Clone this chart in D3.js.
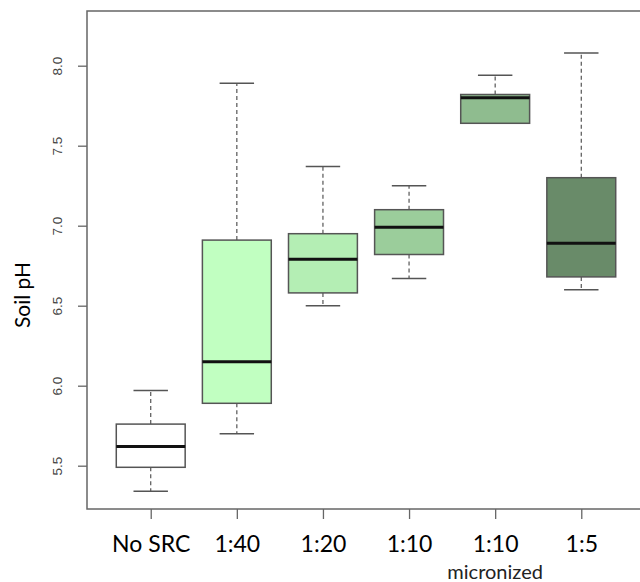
<!DOCTYPE html>
<html><head><meta charset="utf-8">
<script src="https://cdn.jsdelivr.net/npm/d3@7"></script>
<style>body{margin:0;background:#fff}svg{display:block}</style>
</head><body><div id="chart"></div>
<script>
const categories = ["No SRC", "1:40", "1:20", "1:10", "1:10", "1:5"];
const sublabels = ["", "", "", "", "micronized", ""];
const mins    = [5.34, 5.70, 6.50, 6.67, 7.64, 6.60];
const q1s     = [5.49, 5.89, 6.58, 6.82, 7.64, 6.68];
const medians = [5.62, 6.15, 6.79, 6.99, 7.80, 6.89];
const q3s     = [5.76, 6.91, 6.95, 7.10, 7.82, 7.30];
const maxs    = [5.97, 7.89, 7.37, 7.25, 7.94, 8.08];
const fills   = ["#FFFFFF", "#C1FFC1", "#B4EEB4", "#9BCD9B", "#8FBC8F", "#698B69"];
const yTicks  = [5.5, 6.0, 6.5, 7.0, 7.5, 8.0];
const yTitle  = "Soil pH";

const W = 640, H = 582;
const frame = {left: 87, right: 645, top: 11, bottom: 509};
const svg = d3.select("#chart").append("svg").attr("width", W).attr("height", H);

const x = d3.scaleLinear().domain([0.26, 6.74]).range([frame.left, frame.right]);
const y = d3.scaleLinear().domain([5.5, 8.0]).range([465.7, 65.7]);
const boxHalf = 0.4, capHalf = 0.2;
const stroke = "#555";
const font = "Lato, 'Open Sans', sans-serif";

const data = categories.map((c, i) => ({c, i: i + 1, min: mins[i], q1: q1s[i], med: medians[i], q3: q3s[i], max: maxs[i], fill: fills[i], sub: sublabels[i]}));

const g = svg.append("g");
data.forEach(d => {
  const cx = x(d.i);
  g.append("line").attr("x1", cx).attr("x2", cx).attr("y1", y(d.q3)).attr("y2", y(d.max))
    .attr("stroke", stroke).attr("stroke-width", 1.2).attr("stroke-dasharray", "4,3");
  g.append("line").attr("x1", cx).attr("x2", cx).attr("y1", y(d.q1)).attr("y2", y(d.min))
    .attr("stroke", stroke).attr("stroke-width", 1.2).attr("stroke-dasharray", "4,3");
  [d.min, d.max].forEach(v => {
    g.append("line").attr("x1", x(d.i - capHalf)).attr("x2", x(d.i + capHalf)).attr("y1", y(v)).attr("y2", y(v))
      .attr("stroke", stroke).attr("stroke-width", 1.5);
  });
  g.append("rect").attr("x", x(d.i - boxHalf)).attr("width", x(d.i + boxHalf) - x(d.i - boxHalf))
    .attr("y", y(d.q3)).attr("height", y(d.q1) - y(d.q3))
    .attr("fill", d.fill).attr("stroke", stroke).attr("stroke-width", 1.5);
  g.append("line").attr("x1", x(d.i - boxHalf)).attr("x2", x(d.i + boxHalf)).attr("y1", y(d.med)).attr("y2", y(d.med))
    .attr("stroke", "#111").attr("stroke-width", 3);
});

svg.append("rect").attr("x", frame.left).attr("y", frame.top)
  .attr("width", frame.right - frame.left).attr("height", frame.bottom - frame.top)
  .attr("fill", "none").attr("stroke", "#666").attr("stroke-width", 1.5);

const yAxis = d3.axisLeft(y).tickValues(yTicks).tickFormat(d3.format(".1f")).tickSize(9).tickPadding(0);
const ya = svg.append("g").attr("transform", `translate(${frame.left},0)`).call(yAxis);
ya.select(".domain").remove();
ya.selectAll(".tick line").attr("stroke", "#666").attr("stroke-width", 1.3);
ya.selectAll(".tick text").attr("transform", "translate(-30,0) rotate(-90)").attr("x", 0).attr("dy", "0.35em")
  .attr("text-anchor", "middle").attr("fill", "#444").style("font-family", "'Liberation Sans', Arial, sans-serif").style("font-size", "13.5px");

const xAxis = d3.axisBottom(x).tickValues(data.map(d => d.i)).tickFormat((v, i) => categories[i]).tickSize(10).tickPadding(17);
const xa = svg.append("g").attr("transform", `translate(0,${frame.bottom})`).call(xAxis);
xa.select(".domain").remove();
xa.selectAll(".tick line").attr("stroke", "#666").attr("stroke-width", 1.3);
xa.selectAll(".tick text").attr("fill", "#000").style("font-family", font).style("font-size", "23px");

data.filter(d => d.sub).forEach(d => {
  svg.append("text").attr("x", x(d.i)).attr("y", 579).attr("text-anchor", "middle")
    .style("font-family", font).style("font-size", "20px").attr("fill", "#222").text(d.sub);
});

svg.append("text").attr("transform", `translate(30,295) rotate(-90)`)
  .attr("text-anchor", "middle").style("font-family", font).style("font-size", "21px")
  .attr("fill", "#000").text(yTitle);
</script>
</body></html>
